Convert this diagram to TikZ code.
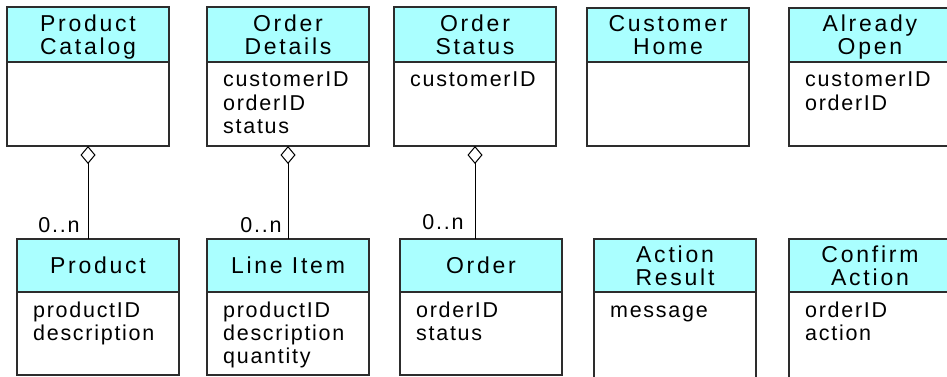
\documentclass[tikz,border=0pt]{standalone}
\usepackage{fontspec}
\setmainfont{Liberation Sans}
\newfontfamily\headfont{Liberation Sans}[LetterSpace=12]
\newfontfamily\attrfont{Liberation Sans}[LetterSpace=8]
\usetikzlibrary{arrows.meta}
\definecolor{headcyan}{RGB}{170,255,255}
\definecolor{boxline}{RGB}{45,45,45}
\tikzset{
  classhead/.style={draw=boxline, line width=1.1pt, fill=headcyan, minimum width=162pt,
    inner sep=0pt, outer sep=0pt, anchor=north west, align=center, text depth=0pt,
    font=\headfont\fontsize{23pt}{23.3pt}\selectfont},
  classbody/.style={draw=boxline, line width=1.1pt, fill=white, minimum width=162pt,
    inner sep=0pt, outer sep=0pt, anchor=north},
  attr/.style={anchor=base west, inner sep=0pt, font=\attrfont\fontsize{21.5pt}{23.3pt}\selectfont},
  mult/.style={anchor=base east, inner sep=0pt, font=\attrfont\fontsize{21.5pt}{23.3pt}\selectfont},
  agg/.style={{Diamond[open,length=18pt,width=15pt]}-, line width=1pt}
}
% attribute lines of a class body
\newcommand\attrlist[2]{%
  \foreach \a [count=\k] in {#2}
    \node[attr] (#1-a\k) at ([xshift=16pt, yshift={-25pt-23.3pt*(\k-1)}]#1.north west) {\a};
}
\begin{document}
\begin{tikzpicture}[x=1pt, y=-1pt]
    \useasboundingbox (0,0) rectangle (947,377);

    % Top row
    \node[classhead, minimum height=55pt] (catH) at (7,7) {Product\\Catalog};
    \node[classbody, minimum height=84pt] (catB) at (catH.south) {};

    \node[classhead, minimum height=55pt] (detH) at (207,7) {Order\\Details};
    \node[classbody, minimum height=84pt] (detB) at (detH.south) {};
    \attrlist{detB}{customerID,orderID,status}

    \node[classhead, minimum height=55pt] (staH) at (394,7) {Order\\Status};
    \node[classbody, minimum height=84pt] (staB) at (staH.south) {};
    \attrlist{staB}{customerID}

    \node[classhead, minimum height=54pt] (homH) at (587,8) {Customer\\Home};
    \node[classbody, minimum height=84pt] (homB) at (homH.south) {};

    \node[classhead, minimum height=54pt] (opnH) at (789,8) {Already\\Open};
    \node[classbody, minimum height=84pt] (opnB) at (opnH.south) {};
    \attrlist{opnB}{customerID,orderID}

    % Bottom row
    \node[classhead, minimum height=53pt] (prdH) at (17,239) {Product};
    \node[classbody, minimum height=83pt] (prdB) at (prdH.south) {};
    \attrlist{prdB}{productID,description}

    \node[classhead, minimum height=53pt] (itmH) at (207,239) {Line Item};
    \node[classbody, minimum height=83pt] (itmB) at (itmH.south) {};
    \attrlist{itmB}{productID,description,quantity}

    \node[classhead, minimum height=53pt] (ordH) at (400,239) {Order};
    \node[classbody, minimum height=83pt] (ordB) at (ordH.south) {};
    \attrlist{ordB}{orderID,status}

    \node[classhead, minimum height=53pt] (resH) at (594,239) {Action\\Result};
    \node[classbody, minimum height=92pt] (resB) at (resH.south) {};
    \attrlist{resB}{message}

    \node[classhead, minimum height=53pt] (cnfH) at (789,239) {Confirm\\Action};
    \node[classbody, minimum height=92pt] (cnfB) at (cnfH.south) {};
    \attrlist{cnfB}{orderID,action}

    % Aggregations
    \draw[agg] (catB.south) -- (catB.south |- prdH.north)
        node[mult, pos=1, xshift=-8pt, yshift=7pt] (catM) {0..n};
    \draw[agg] (detB.south) -- (detB.south |- itmH.north)
        node[mult, pos=1, xshift=-6pt, yshift=7pt] (detM) {0..n};
    \draw[agg] (staB.south) -- (staB.south |- ordH.north)
        node[mult, pos=1, xshift=-11pt, yshift=10pt] (staM) {0..n};
\end{tikzpicture}
\end{document}
